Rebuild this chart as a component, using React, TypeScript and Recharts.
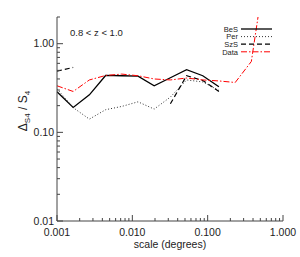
import { LineChart, Line, XAxis, YAxis, Legend } from "recharts";

// angular scale in degrees (log spaced bins)
const scaleDeg = [
  0.001, 0.00164, 0.00269, 0.00442, 0.00724, 0.0119, 0.0195, 0.032, 0.0525,
  0.0861, 0.141, 0.232, 0.38, 0.624,
];
const besVals = [0.287, 0.191, 0.265, 0.438, 0.435, 0.43, 0.335, 0.413, 0.508, 0.435, 0.327, null, null, null];
const perVals = [0.31, 0.19, 0.141, 0.18, 0.196, 0.221, 0.183, 0.25, 0.39, 0.37, 0.297, null, null, null];
const szsVals = [0.49, 0.54, null, null, null, null, null, 0.21, 0.435, 0.385, 0.289, null, null, null];
const obsVals = [0.335, 0.289, 0.39, 0.438, 0.454, 0.435, 0.4, 0.39, 0.41, 0.39, 0.38, 0.365, 0.63, 10.4];

const xTicks = [
  0.001, 0.002, 0.003, 0.004, 0.005, 0.006, 0.007, 0.008, 0.009,
  0.01, 0.02, 0.03, 0.04, 0.05, 0.06, 0.07, 0.08, 0.09,
  0.1, 0.2, 0.3, 0.4, 0.5, 0.6, 0.7, 0.8, 0.9, 1,
];
const yTicks = [
  0.01, 0.02, 0.03, 0.04, 0.05, 0.06, 0.07, 0.08, 0.09,
  0.1, 0.2, 0.3, 0.4, 0.5, 0.6, 0.7, 0.8, 0.9, 1, 2,
];

const series = [
  { key: "bes", name: "BeS", color: "#000", dash: undefined, width: 1.3 },
  { key: "per", name: "Per", color: "#333", dash: "1 2", width: 1 },
  { key: "szs", name: "SzS", color: "#000", dash: "5 3", width: 1.2 },
  { key: "obs", name: "Data", color: "#ff0000", dash: "6 2 1.5 2", width: 1 },
];

const rows = scaleDeg.map((s, i) => ({
  scale: s,
  bes: besVals[i],
  per: perVals[i],
  szs: szsVals[i],
  obs: obsVals[i],
}));

const FONT = "'Liberation Sans', Arial, sans-serif";
const AXIS = "#444";

const isMajor = (v: number) => Math.abs(Math.log10(v) - Math.round(Math.log10(v))) < 1e-6;

function BottomTick(props: any) {
  const { x, y, payload } = props;
  const major = isMajor(payload.value);
  return (
    <g>
      <line x1={x} x2={x} y1={y} y2={y - (major ? 6 : 3)} stroke={AXIS} />
      {major && (
        <text x={x} y={y + 14.5} textAnchor="middle" fontSize={10.5} fill="#222" fontFamily={FONT}>
          {payload.value.toFixed(3)}
        </text>
      )}
    </g>
  );
}

function TopTick(props: any) {
  const { x, y, payload } = props;
  const major = isMajor(payload.value);
  return <line x1={x} x2={x} y1={y} y2={y + (major ? 6 : 3)} stroke={AXIS} />;
}

function LeftTick(props: any) {
  const { x, y, payload } = props;
  const major = isMajor(payload.value);
  return (
    <g>
      <line x1={x} x2={x + (major ? 6 : 3)} y1={y} y2={y} stroke={AXIS} />
      {major && (
        <text x={x - 3} y={y + 3.8} textAnchor="end" fontSize={10.5} fill="#222" fontFamily={FONT}>
          {payload.value.toFixed(2)}
        </text>
      )}
    </g>
  );
}

function RightTick(props: any) {
  const { x, y, payload } = props;
  const major = isMajor(payload.value);
  return <line x1={x} x2={x - (major ? 6 : 3)} y1={y} y2={y} stroke={AXIS} />;
}

function YLabel() {
  return (
    <text
      transform="translate(26.5,111) rotate(-90)"
      textAnchor="middle"
      fontSize={12}
      fill="#222"
      fontFamily={FONT}
    >
      Δ<tspan fontSize={8} dy={3}>S4</tspan>
      <tspan dy={-3}> / S</tspan>
      <tspan fontSize={8} dy={3}>4</tspan>
    </text>
  );
}

function LegendBox() {
  return (
    <svg width={80} height={36} style={{ display: "block" }}>
      {series.map((s, i) => {
        const cy = 7 + i * 7.6;
        return (
          <g key={s.key}>
            <text x={38} y={cy + 2.7} textAnchor="end" fontSize={7.5} fill="#222" fontFamily={FONT}>
              {s.name}
            </text>
            <line x1={41} x2={72} y1={cy} y2={cy} stroke={s.color} strokeWidth={s.width} strokeDasharray={s.dash} />
          </g>
        );
      })}
    </svg>
  );
}

export default function App() {
  return (
    <div style={{ position: "absolute", left: 0, top: 0, width: 300, height: 257, background: "#fff" }}>
      <LineChart width={300} height={257} data={rows} margin={{ top: 17, right: 17, bottom: 0, left: 0 }}>
        <XAxis
          dataKey="scale"
          type="number"
          scale="log"
          domain={[0.001, 1]}
          allowDataOverflow
          ticks={xTicks}
          interval={0}
          height={36}
          tickSize={0}
          tickMargin={0}
          tickLine={false}
          tick={<BottomTick />}
          axisLine={{ stroke: AXIS }}
          label={{
            value: "scale (degrees)",
            position: "insideBottom",
            offset: 9,
            fontSize: 10.5,
            fill: "#222",
            fontFamily: FONT,
          }}
        />
        <XAxis
          xAxisId="top"
          orientation="top"
          type="number"
          scale="log"
          domain={[0.001, 1]}
          allowDataOverflow
          ticks={xTicks}
          interval={0}
          height={0}
          tickSize={0}
          tickMargin={0}
          tickLine={false}
          tick={<TopTick />}
          axisLine={{ stroke: AXIS }}
        />
        <YAxis
          type="number"
          scale="log"
          domain={[0.01, 2]}
          allowDataOverflow
          ticks={yTicks}
          interval={0}
          width={57}
          tickSize={0}
          tickMargin={0}
          tickLine={false}
          tick={<LeftTick />}
          axisLine={{ stroke: AXIS }}
          label={{ content: <YLabel /> }}
        />
        <YAxis
          yAxisId="right"
          orientation="right"
          type="number"
          scale="log"
          domain={[0.01, 2]}
          allowDataOverflow
          ticks={yTicks}
          interval={0}
          width={0}
          tickSize={0}
          tickMargin={0}
          tickLine={false}
          tick={<RightTick />}
          axisLine={{ stroke: AXIS }}
        />
        <Legend
          layout="vertical"
          align="center"
          verticalAlign="middle"
          content={<LegendBox />}
          wrapperStyle={{ position: "absolute", left: 200, top: 22, width: 80, height: 36 }}
        />
        {series.map((s) => (
          <Line
            key={s.key}
            dataKey={s.key}
            name={s.name}
            type="linear"
            stroke={s.color}
            strokeWidth={s.width}
            strokeDasharray={s.dash}
            dot={false}
            activeDot={false}
            connectNulls={false}
            isAnimationActive={false}
          />
        ))}
      </LineChart>
      <div
        style={{
          position: "absolute",
          left: 70,
          top: 27,
          fontSize: 9.5,
          fontFamily: FONT,
          color: "#222",
          whiteSpace: "nowrap",
          lineHeight: "12px",
        }}
      >
        0.8 &lt; z &lt; 1.0
      </div>
    </div>
  );
}
